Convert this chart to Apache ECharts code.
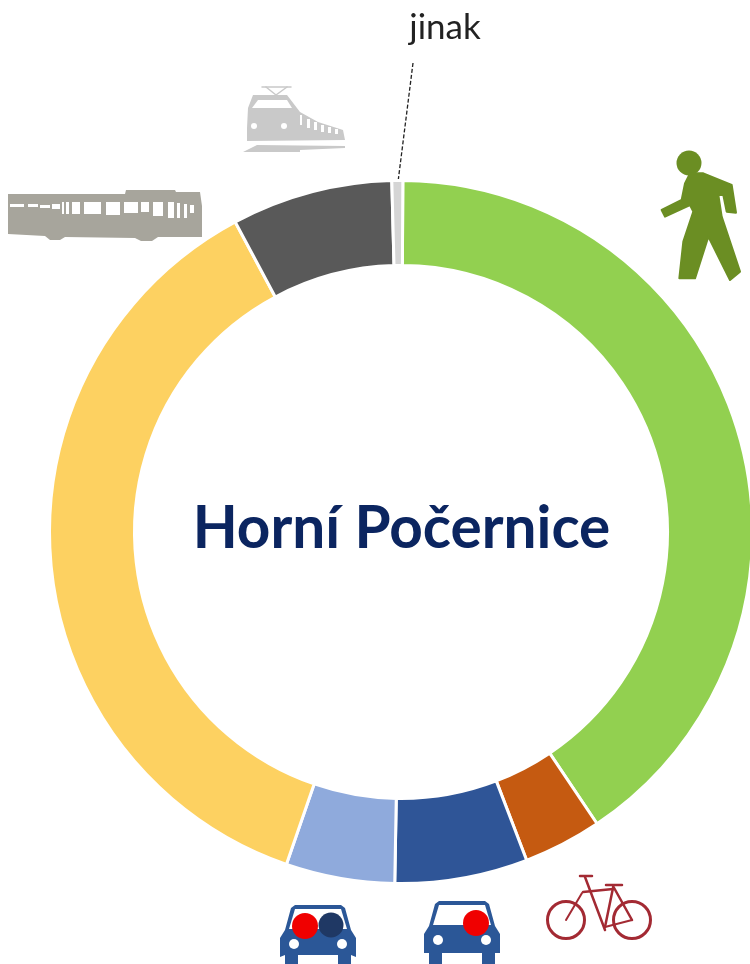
<!DOCTYPE html>
<html>
<head>
<meta charset="utf-8">
<style>html,body{margin:0;padding:0;background:#fff}#c{width:750px;height:964px}</style>
<script src="https://cdn.jsdelivr.net/npm/echarts@6/dist/echarts.min.js"></script>
</head>
<body>
<div id="c"></div>
<script>
const categories = ['pěšky', 'na kole', 'auto – řidič', 'auto – spolujezdec', 'MHD', 'vlak', 'jinak'];
const shares = [40.5, 3.6, 6.1, 5.0, 36.9, 7.4, 0.5];
const sliceColors = ['#92D050', '#C55A11', '#2F5597', '#8FAADC', '#FDD161', '#595959', '#D5D5D5'];
const centerTitle = 'Horní Počernice';
const otherLabel = categories[categories.length - 1];

function poly(points, fill, stroke) {
  return {type:'polygon', silent:true, shape:{points}, style:{fill, stroke: stroke || null, lineWidth: stroke ? 2 : 0, lineJoin:'round'}};
}
function circ(cx, cy, r, fill) { return {type:'circle', silent:true, shape:{cx, cy, r}, style:{fill}}; }
function rect(x, y, width, height, fill) { return {type:'rect', silent:true, shape:{x, y, width, height}, style:{fill}}; }
function ln(x1, y1, x2, y2, stroke, lineWidth, extra) {
  return {type:'line', silent:true, shape:{x1, y1, x2, y2}, style:Object.assign({stroke, lineWidth, lineCap:'round'}, extra || {})};
}
function ringC(cx, cy, r, stroke, lineWidth) {
  return {type:'circle', silent:true, shape:{cx, cy, r}, style:{fill:'none', stroke, lineWidth}};
}

function walker() {
  const c = '#6B8E23';
  const z = [[150,100],[190,100],[275,135],[288,218],[260,215],[250,165],[235,165],[245,230],[300,395],[270,420],[205,290],[165,415],[118,415],[130,305],[160,215],[150,195],[75,230],[65,210],[125,180],[135,130]];
  return [circ(689, 163, 12.5, c), poly(z.map(p => [640 + p[0] / 3, 140 + p[1] / 3]), c, c)];
}
function bus() {
  const c = '#A7A59C', w = '#fff';
  const out = [poly([[8,194],[125,194],[126,190],[175,190],[176,192],[200,192],[202,206],[202,237],[158,237],[152,241],[141,241],[135,238],[65,237],[60,240],[50,240],[45,236],[8,234]], c)];
  const wins = [[10,204,14,3],[28,204,10,3],[40,205,10,3],[52,204,8,5],[62,202,2,12],[66,202,3,12],[72,202,8,12],[84,202,17,12],[106,202,14,13],[124,202,14,11],[141,202,8,10],[153,202,10,14],[168,202,6,16],[177,203,3,15],[184,204,3,14],[190,205,4,8]];
  wins.forEach(a => out.push(rect(a[0], a[1], a[2], a[3], w)));
  return out;
}
function train() {
  const c = '#C9C9C9', w = '#fff';
  const out = [
    poly([[247,128],[248,108],[253,95],[287,95],[300,112],[318,122],[343,130],[345,140],[247,141]], c),
    ln(262,87,291,87,c,1.5), ln(266,87,276,95,c,1.5), ln(287,87,276,95,c,1.5),
    poly([[252,108],[258,100],[287,100],[292,108]], w),
    circ(254,126,3,w), circ(284,126,3,w),
    poly([[243,152],[257,145],[345,146],[345,148],[300,150],[300,152]], c),
    rect(246,143,99,2,w)
  ];
  [[300,115,2,10],[307,119,3,9],[314,122,3,8],[321,125,3,7],[328,127,3,6],[335,129,3,5]].forEach(a => out.push(rect(a[0],a[1],a[2],a[3],w)));
  return out;
}
function car(cx, top, legTop) {
  const c = '#2B5797', w = '#fff';
  const by = top + 25;
  return [
    poly([[cx-27,top+3],[cx-23,top],[cx+23,top],[cx+27,top+3],[cx+33,by],[cx+38,by+8],[cx+38,by+27],[cx+33,legTop],[cx+33,964],[cx+20,964],[cx+20,legTop],[cx-20,legTop],[cx-20,964],[cx-33,964],[cx-33,legTop],[cx-38,by+27],[cx-38,by+8],[cx-33,by]], c),
    poly([[cx-23,top+4],[cx+23,top+4],[cx+29,by-1],[cx-29,by-1]], w),
    circ(cx-24,by+14,5,w), circ(cx+24,by+14,5,w)
  ];
}
function bike() {
  const c = '#A32A33', lw = 2.5;
  return [
    ringC(566,920,18.5,c,lw+0.5), ringC(632,920,18.5,c,lw+0.5),
    ln(583,892,613,889,c,lw), ln(582,893,566,920,c,2),
    ln(585,877,605,930,c,lw), ln(613,888,605,927,c,lw),
    ln(613,886,632,920,c,lw), ln(605,927,632,920,c,2),
    ln(580,876,592,876,c,lw), ln(606,885,622,885,c,lw)
  ];
}

const graphics = [
  ...walker(), ...bus(), ...train(),
  ...car(318, 905, 955),
  circ(305,926,13,'#F00000'), circ(331,925,12.5,'#1F3864'),
  ...car(462, 901, 953),
  circ(476,923,13,'#F00000'),
  ...bike(),
  ln(413,63,398,182,'#222',1.3,{lineDash:[4,2], lineCap:'butt'}),
  {type:'text', silent:true, style:{x:445, y:28, text:otherLabel, fill:'#222', font:'35px Lato, "Open Sans", sans-serif', align:'center', verticalAlign:'middle'}},
  {type:'text', silent:true, style:{x:401.5, y:529, text:centerTitle, fill:'#0B2560', font:'bold 58.5px Lato, "Open Sans", sans-serif', align:'center', verticalAlign:'middle'}}
];

const chart = echarts.init(document.getElementById('c'), null, {renderer:'canvas'});
chart.setOption({
  animation:false,
  backgroundColor:'#fff',
  series:[{
    type:'pie',
    center:[401,532],
    radius:[266.5,351.5],
    startAngle:89.7,
    clockwise:true,
    silent:true,
    label:{show:false},
    labelLine:{show:false},
    itemStyle:{borderColor:'#fff', borderWidth:3},
    data:categories.map((name,i)=>({name, value:shares[i], itemStyle:{color:sliceColors[i]}}))
  }],
  graphic:{elements:graphics}
});
</script>
</body>
</html>
